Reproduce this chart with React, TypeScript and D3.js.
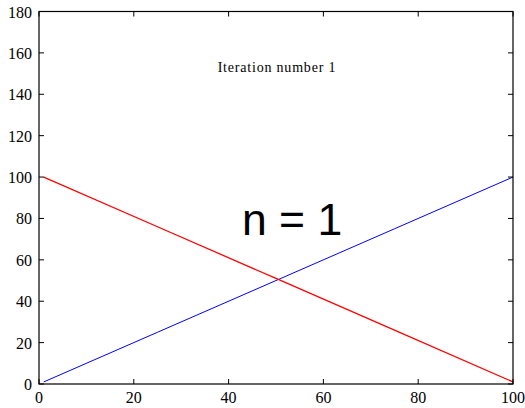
import React from "react";
import * as d3 from "d3";

const xValues = [1, 25, 50, 75, 100];
const blueValues = [1, 25, 50, 75, 100];
const redValues = [100, 76, 51, 26, 1];
const xTicks = [0, 20, 40, 60, 80, 100];
const yTicks = [0, 20, 40, 60, 80, 100, 120, 140, 160, 180];
const titleText = "Iteration number 1";
const bigLabel = "n = 1";

const W = 525;
const H = 408;
const left = 39;
const right = 513;
const top = 11.5;
const bottom = 384;
const tickLen = 5;

export default function App() {
  const x = d3.scaleLinear().domain([0, 100]).range([left, right]);
  const y = d3.scaleLinear().domain([0, 180]).range([bottom, top]);
  const line = d3
    .line<number>()
    .x((_, i) => x(xValues[i]))
    .y((d) => y(d));

  const serif = "'Liberation Serif', 'Times New Roman', serif";
  return (
    <svg
      width={W}
      height={H}
      style={{ position: "absolute", left: 0, top: 0, background: "#fff" }}
    >
      <rect x={0} y={0} width={W} height={H} fill="#fff" />
      <path d={line(blueValues) || ""} fill="none" stroke="#0000ff" strokeWidth={1} />
      <path d={line(redValues) || ""} fill="none" stroke="#ff0000" strokeWidth={1.3} />
      <rect
        x={left}
        y={top}
        width={right - left}
        height={bottom - top}
        fill="none"
        stroke="#000"
        strokeWidth={1.2}
      />
      {xTicks.map((t) => (
        <g key={"x" + t}>
          <line x1={x(t)} x2={x(t)} y1={bottom} y2={bottom - tickLen} stroke="#000" />
          <line x1={x(t)} x2={x(t)} y1={top} y2={top + tickLen} stroke="#000" />
          <text
            x={x(t)}
            y={bottom + 19}
            textAnchor="middle"
            fontFamily={serif}
            fontSize={16}
            fill="#000"
          >
            {t}
          </text>
        </g>
      ))}
      {yTicks.map((t) => (
        <g key={"y" + t}>
          <line x1={left} x2={left + tickLen} y1={y(t)} y2={y(t)} stroke="#000" />
          <line x1={right} x2={right - tickLen} y1={y(t)} y2={y(t)} stroke="#000" />
          <text
            x={left - 7}
            y={y(t) + 6}
            textAnchor="end"
            fontFamily={serif}
            fontSize={16}
            fill="#000"
          >
            {t}
          </text>
        </g>
      ))}
      <text
        x={x(50.2)}
        y={72}
        textAnchor="middle"
        fontFamily={serif}
        fontSize={14}
        letterSpacing={0.8}
        fill="#000"
      >
        {titleText}
      </text>
      <text
        x={x(53.4)}
        y={235}
        textAnchor="middle"
        fontFamily="'Liberation Sans', Arial, sans-serif"
        fontSize={44.5}
        fill="#000"
      >
        {bigLabel}
      </text>
    </svg>
  );
}
